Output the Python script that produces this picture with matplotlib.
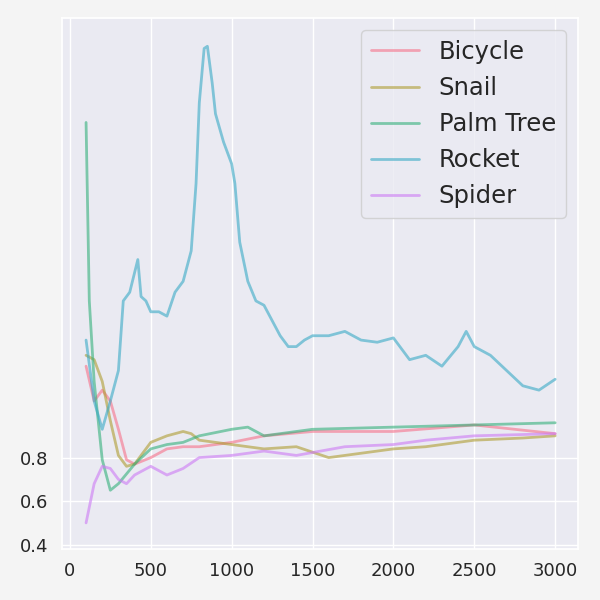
import numpy as np
import matplotlib
matplotlib.use("Agg")
import matplotlib.pyplot as plt
import seaborn as sns

rocket_x = [100, 150, 200, 250, 300, 330, 370, 400, 420, 440, 470, 500, 550, 600, 650, 700, 750, 780,
            800, 830, 850, 880, 900, 950, 1000, 1020, 1050, 1100, 1150, 1200, 1250, 1300, 1350, 1400,
            1450, 1500, 1600, 1700, 1800, 1900, 2000, 2100, 2200, 2300, 2400, 2450, 2500, 2600, 2700,
            2800, 2900, 3000]
rocket_y = [1.34, 1.06, 0.93, 1.06, 1.20, 1.52, 1.56, 1.65, 1.71, 1.54, 1.52, 1.47, 1.47, 1.45, 1.56,
            1.61, 1.75, 2.06, 2.43, 2.68, 2.69, 2.52, 2.38, 2.25, 2.15, 2.06, 1.79, 1.61, 1.52, 1.50,
            1.43, 1.36, 1.31, 1.31, 1.34, 1.36, 1.36, 1.38, 1.34, 1.33, 1.35, 1.25, 1.27, 1.22, 1.31,
            1.38, 1.31, 1.27, 1.20, 1.13, 1.11, 1.16]

palm_x = [100, 120, 150, 200, 250, 300, 400, 500, 600, 700, 800, 1000, 1100, 1200, 1500, 2000, 2500, 3000]
palm_y = [2.34, 1.52, 1.15, 0.79, 0.65, 0.68, 0.77, 0.84, 0.86, 0.87, 0.90, 0.93, 0.94, 0.90, 0.93, 0.94, 0.95, 0.96]

bike_x = [100, 150, 200, 250, 300, 350, 400, 500, 600, 700, 800, 900, 1000, 1200, 1500, 2000, 2500, 3000]
bike_y = [1.22, 1.06, 1.11, 1.06, 0.93, 0.79, 0.77, 0.80, 0.84, 0.85, 0.85, 0.86, 0.87, 0.90, 0.92, 0.92, 0.95, 0.91]

snail_x = [100, 150, 200, 250, 300, 350, 400, 500, 600, 700, 750, 800, 900, 1000, 1200, 1400, 1600,
           1800, 2000, 2200, 2500, 2800, 3000]
snail_y = [1.27, 1.25, 1.15, 0.97, 0.81, 0.76, 0.77, 0.87, 0.90, 0.92, 0.91, 0.88, 0.87, 0.86, 0.84,
           0.85, 0.80, 0.82, 0.84, 0.85, 0.88, 0.89, 0.90]

spider_x = [100, 150, 200, 250, 300, 350, 400, 500, 600, 700, 800, 1000, 1200, 1400, 1700, 2000, 2200, 2500, 3000]
spider_y = [0.50, 0.68, 0.76, 0.75, 0.70, 0.68, 0.72, 0.76, 0.72, 0.75, 0.80, 0.81, 0.83, 0.81, 0.85, 0.86, 0.88, 0.90, 0.91]

series = [("Bicycle", bike_x, bike_y), ("Snail", snail_x, snail_y), ("Palm Tree", palm_x, palm_y),
          ("Rocket", rocket_x, rocket_y), ("Spider", spider_x, spider_y)]

sns.set_theme(style="darkgrid")
colors = sns.color_palette("husl", 5)

fig, ax = plt.subplots(figsize=(6, 6), dpi=100)
fig.patch.set_facecolor("#f4f4f4")
for (name, x, y), c in zip(series, colors):
    ax.plot(x, y, color=c, alpha=0.6, lw=2, label=name)

ax.set_xlim(-50, 3140)
ax.set_ylim(0.38, 2.82)
ax.set_yticks([0.4, 0.6, 0.8])
ax.set_xticks([0, 500, 1000, 1500, 2000, 2500, 3000])
ax.tick_params(labelsize=13)
ax.legend(loc="upper right", fontsize=17.5)
plt.subplots_adjust(left=0.103, right=0.963, top=0.97, bottom=0.085)
plt.savefig("out.png")
